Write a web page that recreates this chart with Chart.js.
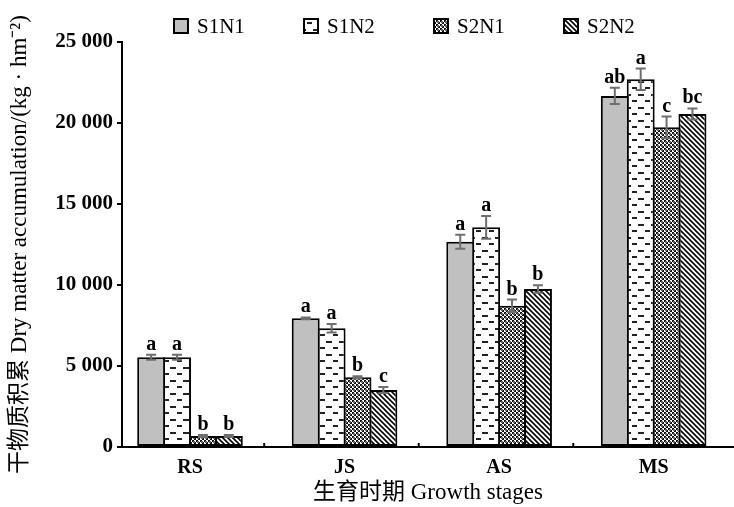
<!DOCTYPE html>
<html>
<head>
<meta charset="utf-8">
<script src="https://cdn.jsdelivr.net/npm/chart.js@4.4.1/dist/chart.umd.min.js"></script>
<style>
  html, body { margin: 0; padding: 0; background: #fff; }
  #wrap { width: 734px; height: 507px; }
</style>
</head>
<body>
<div id="wrap"><canvas id="chart" width="734" height="507"></canvas></div>
<script>
// growth stages and treatments
const stages = ['RS', 'JS', 'AS', 'MS'];
const seriesNames = ['S1N1', 'S1N2', 'S2N1', 'S2N2'];

// dry matter accumulation (kg/hm2)
const s1n1 = [5540, 7940, 12670, 21670];
const s1n2 = [5540, 7330, 13560, 22700];
const s2n1 = [680, 4300, 8720, 19730];
const s2n2 = [680, 3520, 9750, 20560];

// standard errors
const s1n1Err = [150, 60, 430, 500];
const s1n2Err = [160, 260, 700, 660];
const s2n1Err = [60, 70, 380, 670];
const s2n2Err = [60, 180, 230, 340];

// significance letters
const s1n1Sig = ['a', 'a', 'a', 'ab'];
const s1n2Sig = ['a', 'a', 'a', 'a'];
const s2n1Sig = ['b', 'b', 'b', 'c'];
const s2n2Sig = ['b', 'c', 'b', 'bc'];

const yTicks = [0, 5000, 10000, 15000, 20000, 25000];

const SERIF = '"Liberation Serif", "Times New Roman", serif';

// fill patterns
function makeTile(w, h, draw) {
  const c = document.createElement('canvas');
  c.width = w; c.height = h;
  draw(c.getContext('2d'));
  return c;
}

const ctx = document.getElementById('chart').getContext('2d');

const dashTile = makeTile(13, 13, g => {
  g.fillStyle = '#fff';
  g.fillRect(0, 0, 13, 13);
  g.fillStyle = '#222';
  g.fillRect(1, 3, 6, 2);
  g.fillRect(8, 9, 5, 2);
});
const dotTile = makeTile(4, 4, g => {
  g.fillStyle = '#fff';
  g.fillRect(0, 0, 4, 4);
  g.fillStyle = '#111';
  g.fillRect(0, 0, 2, 2);
  g.fillRect(2, 2, 2, 2);
  g.fillStyle = '#666';
  g.fillRect(1, 1, 2, 2);
});
const stripeTile = makeTile(5, 5, g => {
  g.fillStyle = '#fff';
  g.fillRect(0, 0, 5, 5);
  g.strokeStyle = '#000';
  g.lineWidth = 1.6;
  for (let k = -1; k <= 1; k++) {
    g.beginPath();
    g.moveTo(k * 5 - 1, -1);
    g.lineTo(k * 5 + 6, 6);
    g.stroke();
  }
});

const fills = [
  '#c0c0c0',
  ctx.createPattern(dashTile, 'repeat'),
  ctx.createPattern(dotTile, 'repeat'),
  ctx.createPattern(stripeTile, 'repeat')
];

const values = [s1n1, s1n2, s2n1, s2n2];
const errors = [s1n1Err, s1n2Err, s2n1Err, s2n2Err];
const letters = [s1n1Sig, s1n2Sig, s2n1Sig, s2n2Sig];

const datasets = seriesNames.map((name, i) => ({
  label: name,
  data: stages.map((s, j) => ({ x: j, y: values[i][j] })),
  errors: errors[i],
  letters: letters[i],
  backgroundColor: fills[i],
  borderColor: '#000',
  borderWidth: 2,
  borderSkipped: false,
  barPercentage: 1.08,
  categoryPercentage: 0.67
}));

// error bars + letters
const errorBarPlugin = {
  id: 'errorBars',
  afterDatasetsDraw(chart) {
    const c = chart.ctx;
    const yScale = chart.scales.y;
    c.save();
    chart.data.datasets.forEach((ds, i) => {
      const meta = chart.getDatasetMeta(i);
      meta.data.forEach((bar, j) => {
        const v = ds.data[j].y;
        const e = ds.errors[j];
        const yTop = yScale.getPixelForValue(v + e);
        const yBot = yScale.getPixelForValue(v - e);
        c.strokeStyle = '#6e6e6e';
        c.lineWidth = 2;
        c.beginPath();
        c.moveTo(bar.x, yTop); c.lineTo(bar.x, yBot);
        c.moveTo(bar.x - 5, yTop); c.lineTo(bar.x + 5, yTop);
        c.moveTo(bar.x - 5, yBot); c.lineTo(bar.x + 5, yBot);
        c.stroke();
        c.fillStyle = '#000';
        c.font = 'bold 20px ' + SERIF;
        c.textAlign = 'center';
        c.textBaseline = 'alphabetic';
        c.fillText(ds.letters[j], bar.x, yTop - 5);
      });
    });
    c.restore();
  }
};

// small upward tick marks between stages
const stageTickPlugin = {
  id: 'stageTicks',
  afterDraw(chart) {
    const c = chart.ctx;
    const x = chart.scales.x;
    const base = chart.chartArea.bottom;
    c.save();
    c.strokeStyle = '#000';
    c.lineWidth = 2;
    for (let i = 0; i < stages.length - 1; i++) {
      const px = x.getPixelForValue(i + 0.48);
      c.beginPath();
      c.moveTo(px, base);
      c.lineTo(px, base - 4);
      c.stroke();
    }
    c.restore();
  }
};

// legend with boxes
const boxLegendPlugin = {
  id: 'boxLegend',
  afterDraw(chart, args, opts) {
    const c = chart.ctx;
    c.save();
    c.font = '21px ' + SERIF;
    c.textBaseline = 'middle';
    c.textAlign = 'left';
    chart.data.datasets.forEach((ds, i) => {
      const x = opts.left + i * opts.step;
      c.fillStyle = ds.backgroundColor;
      c.fillRect(x, opts.y - 8, 16, 16);
      c.strokeStyle = '#000';
      c.lineWidth = 2;
      c.strokeRect(x + 1, opts.y - 7, 14, 14);
      c.fillStyle = '#000';
      c.fillText(ds.label, x + 24, opts.y + 1);
    });
    c.restore();
  }
};

new Chart(ctx, {
  type: 'bar',
  data: { datasets: datasets },
  plugins: [errorBarPlugin, stageTickPlugin, boxLegendPlugin],
  options: {
    responsive: false,
    animation: false,
    layout: { padding: { top: 42, right: 0, left: 0, bottom: 0 } },
    plugins: {
      legend: { display: false },
      tooltip: { enabled: false },
      boxLegend: { left: 173, step: 130, y: 26 }
    },
    scales: {
      x: {
        type: 'linear',
        offset: false,
        min: -0.44,
        max: 3.52,
        afterFit: function(scale) { scale.height = 60; },
        afterBuildTicks: function(scale) {
          scale.ticks = stages.map((s, i) => ({ value: i }));
        },
        grid: { display: false, drawTicks: false, offset: false },
        border: { display: true, color: '#000', width: 2 },
        ticks: {
          color: '#000',
          padding: 9,
          font: { family: SERIF, size: 20, weight: 'bold' },
          callback: function(value) { return stages[value]; }
        },
        title: {
          display: true,
          text: '生育时期 Growth stages',
          color: '#000',
          font: { family: SERIF + ', "Noto Sans CJK SC"', size: 23 },
          padding: { top: 0, bottom: 0 }
        }
      },
      y: {
        min: 0,
        max: 25000,
        afterFit: function(scale) { scale.width = 122; },
        afterBuildTicks: function(scale) {
          scale.ticks = yTicks.map(v => ({ value: v }));
        },
        grid: {
          display: true,
          drawOnChartArea: false,
          drawTicks: true,
          tickLength: 5,
          color: '#000',
          lineWidth: 2
        },
        border: { display: true, color: '#000', width: 2 },
        ticks: {
          color: '#000',
          padding: 4,
          font: { family: SERIF, size: 21, weight: 'bold' },
          callback: function(value) {
            if (value === 0) return '0';
            return Math.floor(value / 1000) + ' ' + String(value % 1000).padStart(3, '0');
          }
        },
        title: {
          display: true,
          text: '干物质积累 Dry matter accumulation/(kg · hm⁻²)',
          color: '#000',
          font: { family: SERIF + ', "Noto Sans CJK SC"', size: 23 },
          padding: { top: 6, bottom: 0 }
        }
      }
    }
  }
});
</script>
</body>
</html>
